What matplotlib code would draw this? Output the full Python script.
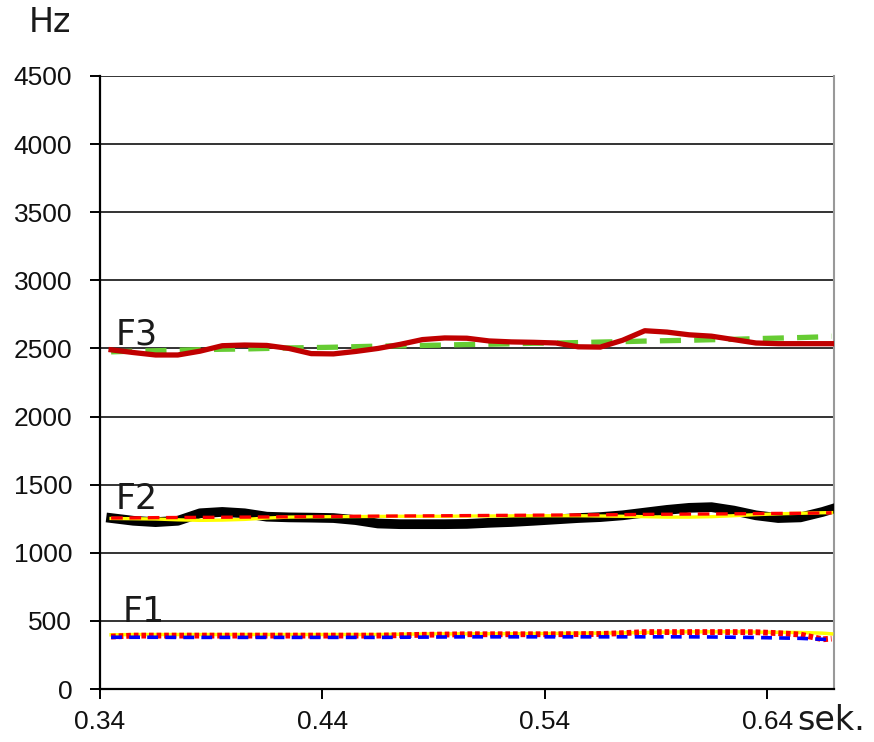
import matplotlib.pyplot as plt

# time axis (seconds)
t = [0.345, 0.355, 0.365, 0.375, 0.385, 0.395, 0.405, 0.415, 0.425, 0.435,
     0.445, 0.455, 0.465, 0.475, 0.485, 0.495, 0.505, 0.515, 0.525, 0.535,
     0.545, 0.555, 0.565, 0.575, 0.585, 0.595, 0.605, 0.615, 0.625, 0.635,
     0.645, 0.655, 0.665, 0.669]

# F3
f3_red = [2490, 2470, 2452, 2452, 2480, 2520, 2525, 2522, 2500, 2462,
          2460, 2478, 2500, 2530, 2565, 2577, 2575, 2555, 2548, 2545,
          2540, 2512, 2510, 2560, 2630, 2620, 2600, 2590, 2565, 2540,
          2535, 2535, 2535, 2535]
f3_green = [2475, 2480, 2483, 2487, 2491, 2494, 2496, 2500, 2504, 2506,
            2509, 2513, 2517, 2519, 2522, 2525, 2529, 2531, 2534, 2538,
            2540, 2543, 2547, 2550, 2554, 2557, 2560, 2564, 2567, 2572,
            2576, 2580, 2585, 2590]

# F2
f2_black = [1255, 1235, 1225, 1235, 1290, 1300, 1290, 1265, 1260, 1258,
            1255, 1240, 1215, 1210, 1210, 1210, 1212, 1220, 1226, 1235,
            1245, 1255, 1262, 1275, 1295, 1315, 1330, 1335, 1310, 1275,
            1255, 1260, 1300, 1320]
f2_yellow = [1252, 1250, 1248, 1242, 1238, 1240, 1245, 1255, 1262, 1264,
             1265, 1266, 1267, 1268, 1268, 1268, 1270, 1270, 1271, 1272,
             1272, 1272, 1270, 1268, 1265, 1262, 1262, 1265, 1272, 1280,
             1286, 1290, 1294, 1295]
f2_red = [1255, 1256, 1258, 1259, 1260, 1261, 1262, 1263, 1264, 1266,
          1267, 1268, 1269, 1270, 1271, 1272, 1273, 1274, 1275, 1276,
          1277, 1278, 1279, 1280, 1282, 1283, 1284, 1285, 1286, 1288,
          1289, 1290, 1292, 1294]

# F1
f1_yellow = [398, 400, 400, 400, 400, 400, 400, 400, 400, 400,
             400, 400, 400, 402, 404, 405, 405, 406, 406, 407,
             408, 410, 410, 412, 415, 418, 420, 420, 420, 418,
             416, 415, 410, 405]
f1_red = [385, 392, 392, 392, 392, 392, 392, 392, 392, 392,
          392, 392, 392, 395, 398, 400, 402, 402, 402, 402,
          402, 403, 404, 410, 418, 418, 418, 418, 418, 417,
          410, 400, 365, 370]
f1_blue = [380, 380, 380, 379, 379, 379, 379, 379, 379, 379,
           379, 379, 379, 380, 381, 382, 383, 383, 383, 383,
           383, 383, 383, 383, 383, 383, 383, 382, 380, 378,
           375, 372, 365, 362]

yticks = [0, 500, 1000, 1500, 2000, 2500, 3000, 3500, 4000, 4500]
xticks = [0.34, 0.44, 0.54, 0.64]
xlabels = ['0.34', '0.44', '0.54', '0.64']

fig = plt.figure(figsize=(8.74, 7.42), dpi=100)
ax = fig.add_axes([0.1144, 0.0714, 0.8396, 0.8262])

for y in yticks[1:]:
    ax.axhline(y, color='#333333', lw=1.4, zorder=1)

# F3
ax.plot(t, f3_green, color='#66cc33', lw=3.8, dashes=(4, 2.5), zorder=3)
ax.plot(t, f3_red, color='#c00000', lw=3.8, zorder=4)

# F2
ax.plot(t, f2_black, color='black', lw=7, zorder=3)
ax.plot(t, f2_yellow, color='#ffff00', lw=2.4, zorder=4)
ax.plot(t, f2_red, color='#ff0000', lw=2.4, dashes=(3.5, 2), zorder=5)

# F1
ax.plot(t, f1_yellow, color='#ffff00', lw=2.5, zorder=3)
ax.plot(t, f1_red, color='#ff0000', lw=4.2, dashes=(0.8, 0.5), zorder=4)
ax.plot(t, f1_blue, color='#0000ff', lw=2.6, dashes=(3, 2), zorder=5)

lab = dict(fontsize=25, family='DejaVu Sans', color='#1a1a1a', zorder=6)
ax.text(0.347, 2480, 'F3', va='bottom', **lab)
ax.text(0.347, 1270, 'F2', va='bottom', **lab)
ax.text(0.35, 440, 'F1', va='bottom', **lab)

ax.set_xlim(0.34, 0.67)
ax.set_ylim(0, 4500)
ax.set_yticks(yticks)
ax.set_xticks(xticks)
ax.set_xticklabels(xlabels)
ax.tick_params(axis='both', labelsize=19, length=7, width=1.4, direction='out')
ax.tick_params(axis='y', pad=13)
ax.tick_params(axis='x', pad=8)
for lbl in ax.get_xticklabels() + ax.get_yticklabels():
    lbl.set_family('Liberation Sans')
    lbl.set_color('#111111')

ax.spines['top'].set_visible(False)
ax.spines['right'].set_color('#999999')
ax.spines['right'].set_linewidth(1.5)
ax.spines['left'].set_linewidth(1.6)
ax.spines['bottom'].set_linewidth(1.6)

fig.text(50 / 874, 1 - 22 / 742, 'Hz', fontsize=24, family='DejaVu Sans',
         ha='center', va='center', color='#1a1a1a')
fig.text(797 / 874, 1 - 720 / 742, 'sek.', fontsize=24, family='DejaVu Sans',
         ha='left', va='center', color='#1a1a1a')

fig.savefig('out.png', dpi=100)
